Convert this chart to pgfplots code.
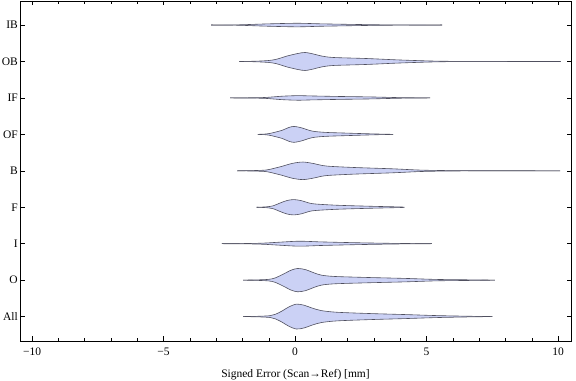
\documentclass[border=0pt]{standalone}
\usepackage{pgfplots}
\pgfplotsset{compat=1.18}
\usepackage{pgfplotstable}
\usepgfplotslibrary{fillbetween}
\usetikzlibrary{calc}
\usepackage{fontspec}
\setmainfont{Liberation Serif}
\definecolor{vfill}{RGB}{203,209,245}
\definecolor{vedge}{RGB}{80,80,95}

% half-widths (in category units) of each violin along x
\pgfplotstableread{
x w
-1.98 0
-1.4 0.008
-0.95 0.025
-0.75 0.063
-0.5 0.151
-0.25 0.26
0.05 0.342
0.35 0.31
0.65 0.233
1.0 0.164
1.6 0.118
2.9 0.082
4.2 0.055
5.4 0.027
6.7 0.008
7.5 0
}\tabAll
\pgfplotstableread{
x w
-1.98 0
-1.4 0.008
-1.0 0.022
-0.76 0.06
-0.45 0.164
-0.15 0.274
0.1 0.32
0.4 0.288
0.7 0.205
1.0 0.137
1.5 0.101
2.7 0.074
4.2 0.047
5.4 0.019
6.7 0.008
7.6 0
}\tabO
\pgfplotstableread{
x w
-2.78 0
-1.8 0.005
-1.2 0.016
-0.6 0.041
0.1 0.068
0.6 0.06
1.0 0.049
2.3 0.027
3.3 0.014
4.2 0.005
5.2 0
}\tabI
\pgfplotstableread{
x w
-1.46 0
-1.1 0.011
-0.83 0.041
-0.55 0.123
-0.3 0.186
-0.04 0.211
0.25 0.178
0.5 0.123
0.76 0.09
1.6 0.055
2.9 0.027
4.0 0.008
4.15 0
}\tabF
\pgfplotstableread{
x w
-2.2 0
-1.5 0.008
-1.1 0.022
-0.83 0.063
-0.5 0.123
-0.1 0.205
0.3 0.241
0.7 0.2
1.0 0.151
1.33 0.123
2.28 0.09
3.7 0.055
4.8 0.019
6.0 0.005
8.0 0.001
10.08 0
}\tabB
\pgfplotstableread{
x w
-1.42 0
-1.1 0.011
-0.95 0.027
-0.5 0.11
-0.25 0.186
-0.04 0.219
0.25 0.178
0.65 0.09
1.14 0.055
1.9 0.036
2.9 0.014
3.73 0
}\tabOF
\pgfplotstableread{
x w
-2.47 0
-1.6 0.005
-1.1 0.014
-0.5 0.047
0.1 0.063
0.6 0.055
1.6 0.041
2.9 0.027
4.0 0.008
5.13 0
}\tabIF
\pgfplotstableread{
x w
-2.12 0
-1.5 0.008
-1.0 0.027
-0.7 0.063
-0.3 0.151
0.1 0.219
0.38 0.247
0.7 0.205
1.0 0.151
1.45 0.11
2.7 0.082
4.0 0.041
5.5 0.008
7.0 0.003
10.1 0
}\tabOB
\pgfplotstableread{
x w
-3.19 0
-2.3 0.003
-1.9 0.011
-1.0 0.033
0.1 0.049
1.0 0.033
2.5 0.014
3.5 0.005
5.59 0
}\tabIB

\newcommand{\violin}[2]{%
  \addplot[name path=u#2, draw=vedge, line width=0.6pt, smooth, tension=0.5]
    table[x=x, y expr=#2+\thisrow{w}] {#1};
  \addplot[name path=l#2, draw=vedge, line width=0.6pt, smooth, tension=0.5]
    table[x=x, y expr=#2-\thisrow{w}] {#1};
  \addplot[vfill] fill between[of=u#2 and l#2];
}

\begin{document}
\begin{tikzpicture}
\begin{axis}[
  scale only axis, width=551pt, height=340pt,
  xmin=-10.46, xmax=10.49, ymin=0.33, ymax=9.66,
  xtick={-10,-5,0,5,10}, xticklabels={−10,−5,0,5,10},
  minor x tick num=4,
  ytick={1,...,9}, yticklabels={All,O,I,F,B,OF,IF,OB,IB},
  tick align=inside, major tick length=4.5pt, minor tick length=2.8pt,
  tick style={black, line width=0.5pt},
  axis line style={line width=0.6pt},
  tick label style={font=\fontsize{11.5}{13}\selectfont},
  yticklabel style={inner xsep=2pt},
  xticklabel style={yshift=-3pt},
  xlabel={Signed Error (Scan→Ref) [mm]},
  xlabel style={font=\fontsize{11.5}{13}\selectfont, at={(axis description cs:0.5,0)}, anchor=base, yshift=-36.5pt},
]
\violin{\tabAll}{1}
\violin{\tabO}{2}
\violin{\tabI}{3}
\violin{\tabF}{4}
\violin{\tabB}{5}
\violin{\tabOF}{6}
\violin{\tabIF}{7}
\violin{\tabOB}{8}
\violin{\tabIB}{9}
\coordinate (sw) at (rel axis cs:0,0);
\coordinate (ne) at (rel axis cs:1,1);
\end{axis}
\pgfresetboundingbox
\path ($(sw)+(-20pt,-40pt)$) rectangle ($(ne)+(5pt,1pt)$);
\end{tikzpicture}
\end{document}
